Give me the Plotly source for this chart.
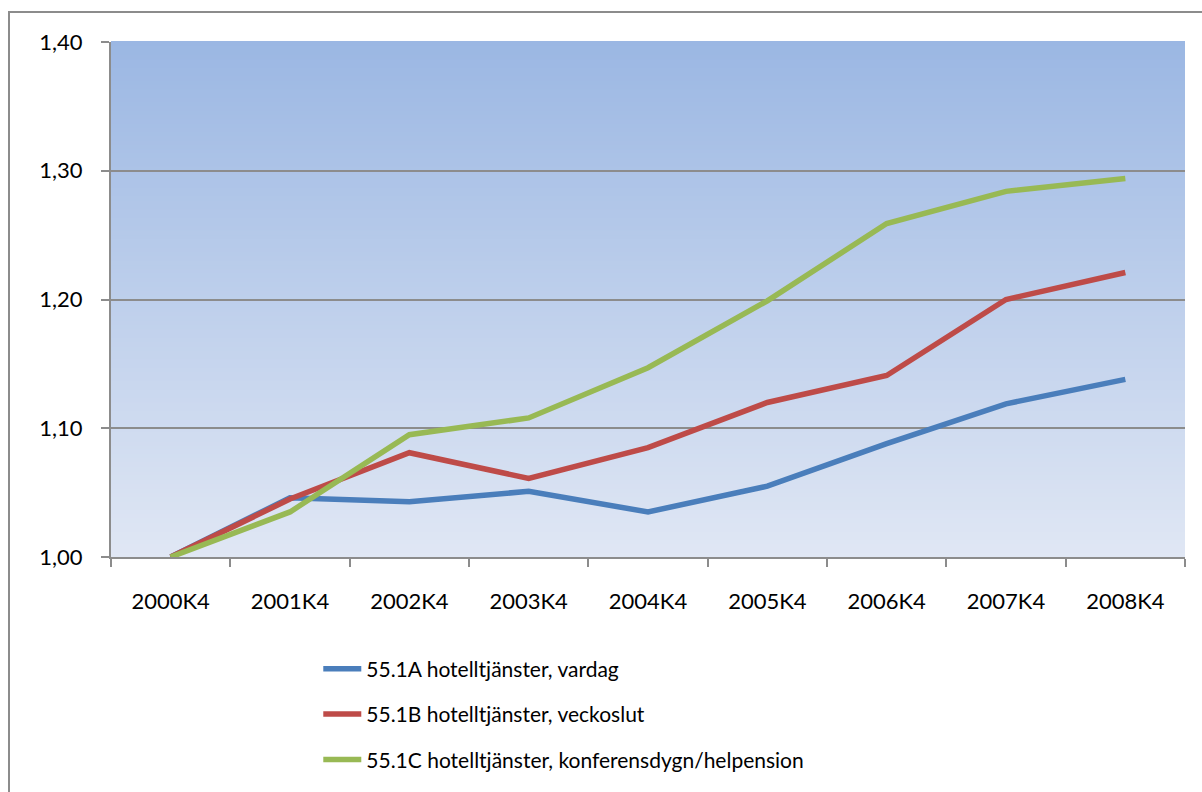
import plotly.graph_objects as go

# Quarterly index values (2000K4 = 1.00)
quarters = ["2000K4", "2001K4", "2002K4", "2003K4", "2004K4",
            "2005K4", "2006K4", "2007K4", "2008K4"]
vardag = [1.000, 1.046, 1.043, 1.051, 1.035, 1.055, 1.088, 1.119, 1.138]
veckoslut = [1.000, 1.045, 1.081, 1.061, 1.085, 1.120, 1.141, 1.200, 1.221]
konferens = [1.000, 1.035, 1.095, 1.108, 1.147, 1.199, 1.259, 1.284, 1.294]

series_names = [
    "55.1A hotelltjänster, vardag",
    "55.1B hotelltjänster, veckoslut",
    "55.1C hotelltjänster, konferensdygn/helpension",
]
series_colors = ["#4A7EBB", "#BE4B48", "#98B954"]

W, H = 1202, 792
ML, MR, MT, MB = 111, 17, 42, 235
font_family = "Lato, 'Open Sans', sans-serif"

fig = go.Figure()
for name, vals, col in zip(series_names, [vardag, veckoslut, konferens], series_colors):
    fig.add_trace(go.Scatter(
        x=quarters, y=vals, name=name, mode="lines",
        line=dict(color=col, width=5.5),
        legendgroup=name,
    ))

# Vertical gradient for the plotting area, built from thin bands
top_rgb = (155, 183, 227)
bot_rgb = (224, 231, 244)
n_bands = 120
shapes = []
for i in range(n_bands):
    t = (i + 0.5) / n_bands
    r, g, b = (round(bot_rgb[k] + (top_rgb[k] - bot_rgb[k]) * t) for k in range(3))
    shapes.append(dict(
        type="rect", xref="paper", yref="paper",
        x0=0, x1=1, y0=i / n_bands, y1=(i + 1) / n_bands + 0.002,
        fillcolor=f"rgb({r},{g},{b})", line=dict(width=0), layer="below",
    ))

# Outer frame around the chart
pw, ph = W - ML - MR, H - MT - MB
shapes.append(dict(
    type="rect", xref="paper", yref="paper",
    x0=(9 - ML) / pw, x1=(W + 5 - ML) / pw,
    y0=(H - MB - (H + 5)) / ph, y1=1 + (MT - 12) / ph,
    line=dict(color="#8C8C8C", width=2), fillcolor="rgba(0,0,0,0)", layer="below",
))

fig.update_layout(
    width=W, height=H,
    margin=dict(l=ML, r=MR, t=MT, b=MB),
    paper_bgcolor="white",
    plot_bgcolor="rgba(0,0,0,0)",
    separators=", ",
    font=dict(family=font_family, size=22, color="black"),
    shapes=shapes,
    showlegend=True,
    legend=dict(
        x=0.193, y=-0.178, xanchor="left", yanchor="top",
        font=dict(family=font_family, size=21, color="black"),
        tracegroupgap=15, bgcolor="rgba(0,0,0,0)",
        itemwidth=38,
    ),
    xaxis=dict(
        type="category", range=[-0.5, 8.5],
        tickson="boundaries", ticks="outside", ticklen=8, tickwidth=2,
        tickcolor="#8C8C8C", showline=True, linecolor="#8C8C8C", linewidth=2,
        showgrid=False, ticklabelstandoff=24, fixedrange=True,
        tickfont=dict(size=22),
    ),
    yaxis=dict(
        range=[1.0, 1.4], dtick=0.1, tickformat=".2f",
        ticks="outside", ticklen=8, tickwidth=2, tickcolor="#8C8C8C",
        showline=True, linecolor="#8C8C8C", linewidth=2,
        showgrid=True, gridcolor="#8C8C8C", gridwidth=2,
        zeroline=False, ticklabelstandoff=14, fixedrange=True,
        tickfont=dict(size=22),
    ),
)

fig.write_html("out.html")
